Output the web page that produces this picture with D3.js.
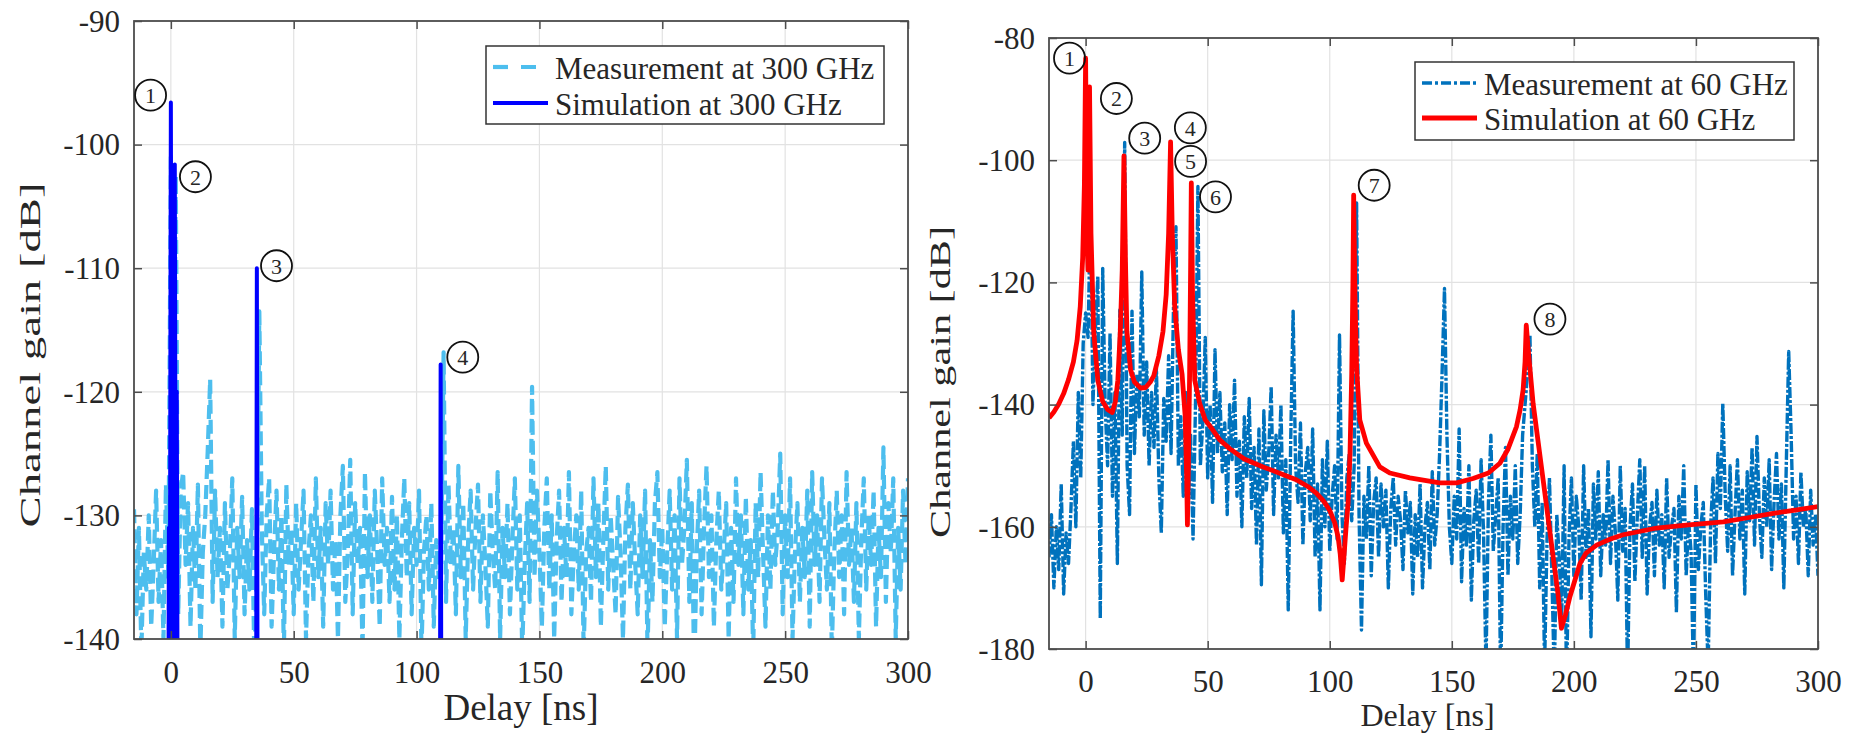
<!DOCTYPE html>
<html><head><meta charset="utf-8">
<script src="https://cdn.jsdelivr.net/npm/d3@7"></script>
<style>
body{margin:0;background:#fff}
svg{display:block}
text{font-family:"Liberation Serif","Times New Roman",serif;fill:#262626}
</style></head>
<body><svg id="c" width="1856" height="743"></svg>
<script>
// ---------------- DATA ----------------
const xTicks = [0, 50, 100, 150, 200, 250, 300];
const yTicks300 = [-140, -130, -120, -110, -100, -90];
const yTicks60 = [-180, -160, -140, -120, -100, -80];

// measurement sampling grid (ns), 1 ns steps from -15 to 300
const measDelay = d3.range(-15, 301, 1);

// Measurement at 300 GHz (dB), one value per ns from -15 to 300
const meas300 = [
 -129.5,-138,-131,-141,-133,-136,-130,-139,-134,-128,-137,-132,-140,-127.5,-135,
 -101,-131,-102.5,-138,-128,
 -126.5,-134,-129,-139,-131,-136,-127.5,-141,-133,-130,-124.8,-119,-137,-128,-135,-131,-139,-129,-136,-133,
 -127,-140,-131,-135,-128.5,-138,-132,-136,-129.5,-142,-134,-113.5,-131,-138,-130,-127,-139,-133,-128,-136,
 -130,-141,-127.5,-134,-131,-138,-129,-136,-132,-128,-140,-133,-130,-137,-127,-135,-131,-139,-129,-134,
 -128,-136,-132,-140,-130,-126,-137,-133,-125.5,-138,-129,-134,-131,-141,-126.5,-135,-130,-137,-128,-133,
 -139,-127,-134,-131,-137,-128.5,-136,-130,-140,-132,-127,-135,-129,-138,-131,-134,-128,-141,-133,-130,
 -136,-129,-139,-132,-135,-134,-116.8,-137,-127.5,-134,-131,-138,-126,-135,-129,-140,-132,-128,-136,-131,
 -127.5,-137,-130,-134,-139,-128,-133,-136,-126.5,-140,-131,-135,-129,-138,-132,-127,-136,-130,-141,-134,
 -129,-137,-119.6,-135,-128,-133,-139,-131,-127,-136,-130,-140,-132,-128,-137,-131,-135,-126.5,-138,-133,
 -130,-136,-128,-141,-133,-131,-137,-127,-135,-129,-139,-132,-126,-136,-130,-134,-138,-128.5,-133,-140,
 -131,-127.5,-136,-129,-134,-138,-130,-135,-128,-141,-132,-137,-129,-126.5,-135,-131,-139,-133,-128,-136,
 -130,-140,-127,-134,-131,-125.5,-137,-129,-143,-133,-128,-138,-131,-126,-135,-130,-139,-132,-128,-136,
 -133,-129,-140,-131,-137,-127,-134,-130,-138,-128.5,-136,-132,-141,-129,-135,-126.5,-133,-139,-130,-136,
 -128,-134,-131,-125,-138,-130,-135,-127,-140,-133,-129,-137,-131,-135,-128,-139,-126.5,-134,-130,-137,
 -127,-132,-136,-129,-141,-133,-128,-135,-130,-138,-126.5,-134,-131,-137,-129,-140,-132,-127,-136,-130,
 -134,-128,-139,-131,-135,-124.5,-137,-129,-133,-127,-140,-131,-136,-128,-134,-127
];

// Simulation at 300 GHz (impulses)
const sim300Delay = [-1.2,-0.8,-0.4,0,0.4,0.8,1.2,1.6,2.0,2.4,2.8,3.3, 34.6,35,35.4, 109.4,109.8,110.2];
const sim300Gain  = [-160,-131,-140,-96.6,-142,-125,-145,-101.6,-138,-120,-150,-160, -160,-110,-160, -160,-117.8,-160];

// Measurement at 60 GHz (dB), one value per ns from -15 to 300
const meas60 = [
 -165,-158,-170,-160,-167,-153,-171,-161,-166,-157,-146,-160,-138,-152,-130,
 -125,-129,-107.6,-140,-128,-119,-175,-117.7,-140,-150,-128.3,-155,-138,-166,-124.5,-145,-97.1,-150,-158,-124.7,
 -148,-135,-142,-118.3,-145,-133,-150,-138,-147,-134,-152,-161,-139,-146,-132,-148,-124,-110.9,-150,-142,
 -155,-138,-157,-145,-162,-140,-104.3,-150,-143,-129,-152,-140,-156,-131,-148,-138,-151,-143,-158,-140,
 -149,-136,-155,-146,-160,-142,-152,-139,-157,-147,-163,-144,-169.5,-141,-154,-148,-137,-158,-145,-152,
 -140,-161,-149,-173.6,-146,-124.7,-150,-156,-143,-163,-151,-147,-159,-144,-165,-153,-173.6,-149,-160,-146,
 -164,-155,-150,-162,-128.6,-158,-166,-152,-148,-159,-150,-107,-158,-176.9,-155,-162,-150,-168,-156,-152,
 -165,-153,-160,-154,-170,-157,-152,-163,-155,-159,-167,-154,-161,-156,-171,-158,-165,-153,-170,-160,
 -156,-167,-151,-163,-158,-148,-135,-121,-145,-160,-166,-155,-162,-144,-169,-157,-163,-150,-172,-159,
 -154,-166,-149,-161,-183,-156,-145,-164,-158,-152,-185,-160,-147,-168,-155,-162,-150,-166,-158,-145,
 -140,-135,-128.6,-150,-160,-148,-170,-156,-183,-162,-152,-168,-185,-158,-165,-175,-150,-186,-162,-152,
 -168,-155,-160,-172,-150,-165,-157,-178,-153,-162,-151,-168,-158,-163,-149,-166,-155,-161,-172,-150,
 -164,-157,-185,-160,-153,-169,-158,-149,-165,-150,-171,-160,-156,-168,-154,-163,-158,-170,-152,-165,
 -160,-157,-174,-155,-162,-150,-168,-159,-164,-185,-153,-167,-160,-156,-171,-183,-160,-152,-166,-148,
 -157,-139.8,-155,-164,-150,-168,-158,-149,-162,-154,-171,-151,-159,-147,-163,-145.2,-158,-165,-152,-160,
 -149,-167,-156,-148,-162,-153,-170,-150,-131.3,-145,-162,-155,-166,-151,-160,-157,-168,-154,-163,-158,
 -168
];

// Simulation at 60 GHz
const sim60Delay = [-15,-13,-11,-9,-7,-5,-3.5,-2.2,-1.2,-0.5,0,0.5,1.0,1.6,2.2,3.3,5,7,9,10.9,12.2,13.2,14.2,15,15.7,16.3,16.9,18.4,20,22.5,24.6,26.5,27.9,30,31.7,33,34,34.8,35.5,36.5,38,39.5,40.8,41.4,41.7,42.1,42.6,43.0,43.3,43.8,44.7,46.7,49,52.2,55,59,65,72.7,80,86.3,91,94.5,97.5,100,102,103.4,104.3,105.1,105.8,106.7,107.5,108.3,109,109.5,109.8,110.3,111,112.3,115,120.5,124.6,132.8,145,152,158.7,165,169.7,173,176.5,178,179.2,180,180.5,181.3,183.3,187.4,191.5,193.5,194.9,196.5,198.4,202.5,205,209.3,215,220.2,233.9,247,261.2,270,281.7,290,300];
const sim60Gain  = [-142.2,-141.2,-139.9,-138.2,-135.9,-133,-129.5,-124,-116,-104,-83.3,-112,-118,-88,-112,-128,-136,-139.5,-140.8,-141.3,-139.5,-136,-128,-118,-99.3,-116,-128,-134.3,-136.3,-137.3,-137.2,-136.3,-135.3,-132,-128,-122,-112,-97,-112,-124,-131,-135,-142,-152,-159.7,-150,-135,-118,-103.7,-122,-136,-139.8,-142.5,-144.2,-145.8,-147.2,-148.9,-150.2,-151.3,-152.3,-153.4,-154.5,-155.8,-157.3,-159.3,-161.6,-164.5,-168.7,-165,-160,-156.2,-148,-135,-120,-105.7,-122,-134,-142.5,-146.3,-150.2,-151.2,-152,-152.8,-152.8,-152.1,-151.2,-149.6,-147.3,-143.6,-140.8,-137.6,-133,-127,-131,-139.8,-152.3,-164.9,-171,-176.6,-174.5,-171.4,-166,-164.3,-163,-162,-161.3,-160.2,-159.7,-159.2,-158.6,-157.8,-157.3,-156.7];

// circled path labels: [number, delay, gain]
const marks300 = [[1,-8.25,-96.0],[2,10.0,-102.6],[3,43.0,-109.8],[4,118.8,-117.2]];
const marks60 = [[1,-6.6,-83.3],[2,12.6,-89.9],[3,24.2,-96.4],[4,42.9,-94.7],[5,43.0,-100.2],[6,53.2,-106.0],[7,118.2,-104.1],[8,190.2,-126.0]];

const legend300 = ["Measurement at 300 GHz", "Simulation at 300 GHz"];
const legend60 = ["Measurement at 60 GHz", "Simulation at 60 GHz"];

// ---------------- DRAW ----------------
const svg = d3.select("#c");

function drawPanel(p) {
  const g = svg.append("g");
  const x = d3.scaleLinear().domain([-15, 300]).range([p.l, p.r]);
  const y = d3.scaleLinear().domain(p.yDom).range([p.b, p.t]);

  // grid
  g.append("g").selectAll("line").data(xTicks).join("line")
    .attr("x1", d => x(d)).attr("x2", d => x(d)).attr("y1", p.t).attr("y2", p.b)
    .attr("stroke", "#e2e2e2").attr("stroke-width", 1.2);
  g.append("g").selectAll("line").data(p.yTicks).join("line")
    .attr("y1", d => y(d)).attr("y2", d => y(d)).attr("x1", p.l).attr("x2", p.r)
    .attr("stroke", "#e2e2e2").attr("stroke-width", 1.2);

  // data
  const cid = "clip" + p.id;
  svg.append("clipPath").attr("id", cid).append("rect")
    .attr("x", p.l).attr("y", p.t).attr("width", p.r - p.l).attr("height", p.b - p.t);
  const dg = g.append("g").attr("clip-path", `url(#${cid})`);
  const line = d3.line().x(d => x(d[0])).y(d => y(d[1]));
  p.series.forEach(s => {
    dg.append("path").datum(d3.zip(s.x, s.y)).attr("d", line)
      .attr("fill", "none").attr("stroke", s.color).attr("stroke-width", s.w)
      .attr("stroke-dasharray", s.dash || null).attr("stroke-linejoin", "round");
  });

  // axes (ticks inward on all sides)
  const axCol = "#4d4d4d";
  const styleAxis = sel => {
    sel.select(".domain").remove();
    sel.selectAll(".tick line").attr("stroke", axCol).attr("stroke-width", 1.5);
    sel.selectAll("text").attr("font-family", '"Liberation Serif","Times New Roman",serif')
      .attr("font-size", 31).attr("fill", "#262626");
  };
  const fmt = d => String(d);
  g.append("g").attr("transform", `translate(0,${p.b})`)
    .call(d3.axisBottom(x).tickValues(xTicks).tickSizeInner(-8).tickSizeOuter(0).tickPadding(p.xPad).tickFormat(fmt))
    .call(styleAxis);
  g.append("g").attr("transform", `translate(0,${p.t})`)
    .call(d3.axisTop(x).tickValues(xTicks).tickSizeInner(-8).tickSizeOuter(0).tickFormat(""))
    .call(styleAxis);
  g.append("g").attr("transform", `translate(${p.l},0)`)
    .call(d3.axisLeft(y).tickValues(p.yTicks).tickSizeInner(-8).tickSizeOuter(0).tickPadding(14).tickFormat(fmt))
    .call(styleAxis)
    .selectAll("text").attr("dy", "0.33em");
  g.append("g").attr("transform", `translate(${p.r},0)`)
    .call(d3.axisRight(y).tickValues(p.yTicks).tickSizeInner(-8).tickSizeOuter(0).tickFormat(""))
    .call(styleAxis);
  g.append("rect").attr("x", p.l).attr("y", p.t).attr("width", p.r - p.l).attr("height", p.b - p.t)
    .attr("fill", "none").attr("stroke", axCol).attr("stroke-width", 1.8);

  // axis labels
  g.append("text").attr("x", (p.l + p.r) / 2 + p.xlDx).attr("y", p.xlY)
    .attr("text-anchor", "middle").attr("font-size", p.xlSize).text("Delay [ns]");
  g.append("text").attr("transform", `translate(${p.ylX},${p.ylY}) rotate(-90)`)
    .attr("text-anchor", "middle").attr("font-size", p.ylSize)
    .attr("textLength", p.ylLen).attr("lengthAdjust", "spacingAndGlyphs")
    .text("Channel gain [dB]");

  // legend
  const L = p.leg;
  g.append("rect").attr("x", L.x).attr("y", L.y).attr("width", L.w).attr("height", L.h)
    .attr("fill", "#fff").attr("stroke", "#333").attr("stroke-width", 1.5);
  p.series.forEach((s, i) => {
    const yy = L.y + L.rows[i];
    g.append("line").attr("x1", L.x + 7).attr("x2", L.x + 62).attr("y1", yy).attr("y2", yy)
      .attr("stroke", s.color).attr("stroke-width", s.w).attr("stroke-dasharray", s.legDash || s.dash || null);
    g.append("text").attr("x", L.x + 69).attr("y", yy + 11.5).attr("font-size", 31).text(p.legendText[i]);
  });

  // circled labels
  const mg = g.append("g");
  p.marks.forEach(m => {
    mg.append("circle").attr("cx", x(m[1])).attr("cy", y(m[2])).attr("r", 15.5)
      .attr("fill", "none").attr("stroke", "#111").attr("stroke-width", 1.8);
    mg.append("text").attr("x", x(m[1])).attr("y", y(m[2])).attr("dy", "0.36em")
      .attr("text-anchor", "middle").attr("font-size", 22)
      .attr("font-family", '"Liberation Sans",Arial,sans-serif').attr("fill", "#111").text(m[0]);
  });
}

drawPanel({
  id: "a", l: 134, r: 908, t: 21, b: 639, yDom: [-140, -90], yTicks: yTicks300, xPad: 22,
  xlY: 720, xlSize: 37, xlDx: 0, ylX: 40, ylY: 355, ylSize: 29, ylLen: 345,
  series: [
    {x: measDelay, y: meas300, color: "#4dbeee", w: 4.2, dash: "14,6", legDash: "15,13"},
    {x: sim300Delay, y: sim300Gain, color: "#0000ff", w: 4}
  ],
  legendText: legend300,
  leg: {x: 486, y: 46, w: 398, h: 78, rows: [21, 57]},
  marks: marks300
});

drawPanel({
  id: "b", l: 1049, r: 1818, t: 38, b: 649, yDom: [-180, -80], yTicks: yTicks60, xPad: 21,
  xlY: 726, xlSize: 32, xlDx: -6, ylX: 950, ylY: 382, ylSize: 29, ylLen: 312,
  series: [
    {x: measDelay, y: meas60, color: "#0072bd", w: 3.4, dash: "11,2,3,2", legDash: "10,3,3,3"},
    {x: sim60Delay, y: sim60Gain, color: "#ff0000", w: 4.8}
  ],
  legendText: legend60,
  leg: {x: 1415, y: 62, w: 379, h: 78, rows: [21, 56]},
  marks: marks60
});
</script>
</body></html>
